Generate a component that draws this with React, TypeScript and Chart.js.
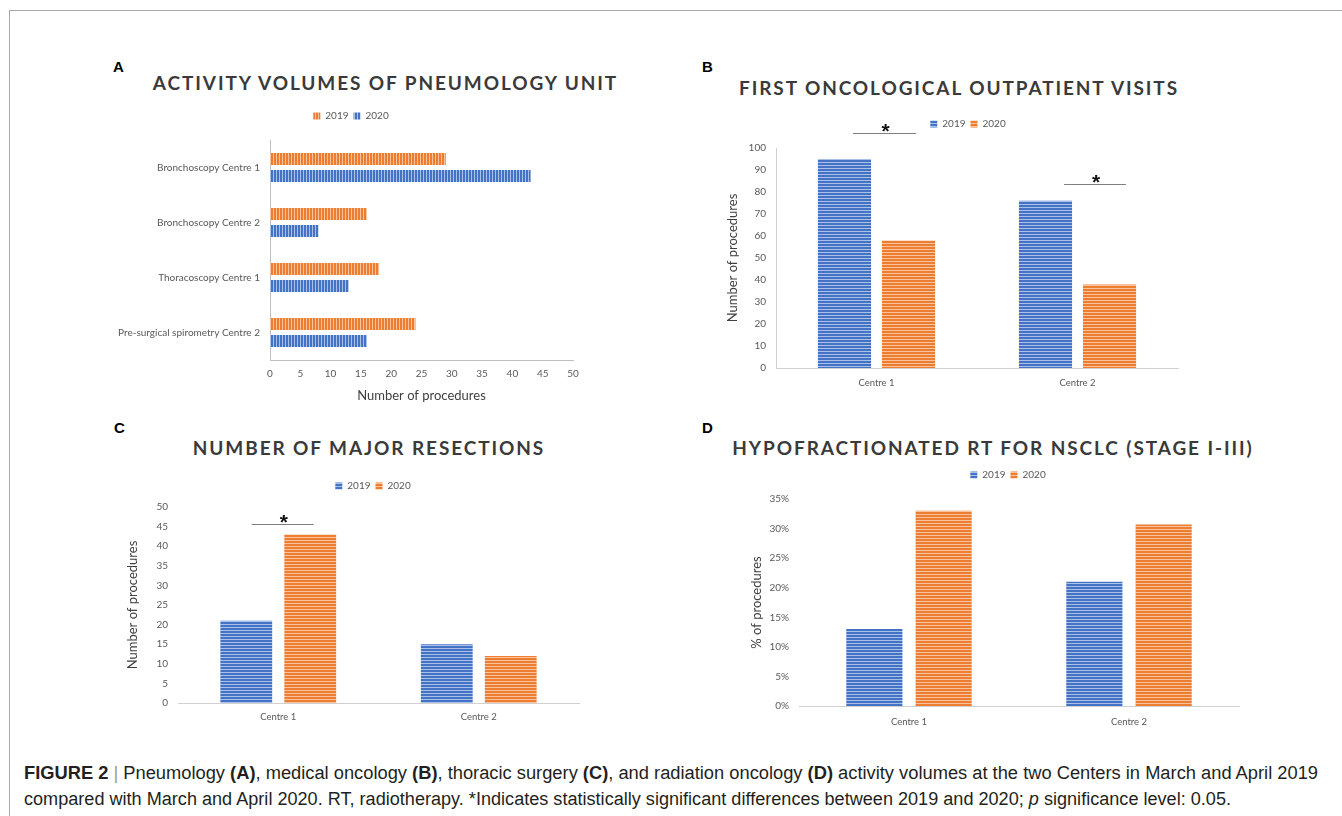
import React, { useEffect, useRef } from 'react';
import { Chart, registerables } from 'chart.js';

Chart.register(...registerables);

// ---------- data ----------
const pneumoCategories = [
  'Bronchoscopy Centre 1',
  'Bronchoscopy Centre 2',
  'Thoracoscopy Centre 1',
  'Pre-surgical spirometry Centre 2',
];
const pneumo2019 = [29, 16, 18, 24];
const pneumo2020 = [43, 8, 13, 16];

const centres = ['Centre 1', 'Centre 2'];
const visits2019 = [95, 76];
const visits2020 = [58, 38];
const resections2019 = [21, 15];
const resections2020 = [43, 12];
const hypoRt2019 = [13, 21];
const hypoRt2020 = [33, 30.7];

const seriesLabels = ['2019', '2020'];

// significance markers (category index, level in axis units, span in fractions of a category)
const visitsSignificance = [
  { category: 0, level: 107, from: -0.117, to: 0.197 },
  { category: 1, level: 83.6, from: -0.067, to: 0.241 },
];
const resectionsSignificance = [{ category: 0, level: 45.7, from: -0.132, to: 0.177 }];

// ---------- styles ----------
const FONT = 'Lato, "Open Sans", "Noto Sans", sans-serif';
const BLUE = '#4472C4';
const BLUE_LIGHT = '#A9C0E8';
const ORANGE = '#ED7D31';
const ORANGE_LIGHT = '#F8C29C';
const TICK = '#595959';
const AXIS_TITLE = '#404040';

Chart.defaults.font.family = FONT;

function stripes(ctx: CanvasRenderingContext2D, base: string, light: string, vertical: boolean) {
  const c = document.createElement('canvas');
  c.width = vertical ? 3 : 1;
  c.height = vertical ? 1 : 3;
  const g = c.getContext('2d')!;
  g.fillStyle = light;
  g.fillRect(0, 0, c.width, c.height);
  g.fillStyle = base;
  if (vertical) g.fillRect(0, 0, 2, 1);
  else g.fillRect(0, 0, 1, 2);
  return ctx.createPattern(c, 'repeat');
}

// adds a gap below the legend and centres the legend row on a given x
const legendPlacement = {
  id: 'legendPlacement',
  beforeInit(chart: any, _args: any, opts: any) {
    const legend = chart.legend;
    if (!legend) return;
    const orig = legend.fit;
    legend.fit = function () {
      orig.call(this);
      this.height += (opts && opts.gap) || 0;
    };
  },
  afterLayout(chart: any, _args: any, opts: any) {
    const legend = chart.legend;
    if (!legend || !opts || opts.center == null) return;
    const half = (legend.right - legend.left) / 2;
    legend.left = opts.center - half;
    legend.right = opts.center + half;
  },
};

const significance = {
  id: 'significance',
  afterDatasetsDraw(chart: any, _args: any, opts: any) {
    const marks = (opts && opts.marks) || [];
    if (!marks.length) return;
    const x = chart.scales.x;
    const y = chart.scales.y;
    const step = x.width / chart.data.labels.length;
    const ctx = chart.ctx;
    ctx.save();
    marks.forEach((m: any) => {
      const c = x.getPixelForValue(m.category);
      const x1 = c + m.from * step;
      const x2 = c + m.to * step;
      const py = Math.round(y.getPixelForValue(m.level)) + 0.5;
      ctx.strokeStyle = '#7f7f7f';
      ctx.lineWidth = 1;
      ctx.beginPath();
      ctx.moveTo(x1, py);
      ctx.lineTo(x2, py);
      ctx.stroke();
      ctx.fillStyle = '#111';
      ctx.font = 'bold 21px "Liberation Sans", Arial, sans-serif';
      ctx.textAlign = 'center';
      ctx.textBaseline = 'alphabetic';
      ctx.fillText('*', (x1 + x2) / 2 + 1, py + 4);
    });
    ctx.restore();
  },
};

const tickFont = { family: FONT, size: 10 };

function legendOptions() {
  return {
    display: true,
    position: 'top',
    labels: { boxWidth: 7, boxHeight: 7, padding: 5, color: TICK, font: tickFont },
  };
}

function pneumoConfig(ctx: CanvasRenderingContext2D): any {
  return {
    type: 'bar',
    data: {
      labels: pneumoCategories,
      datasets: [
        {
          label: seriesLabels[0],
          data: pneumo2019,
          backgroundColor: stripes(ctx, ORANGE, ORANGE_LIGHT, true),
          categoryPercentage: 0.62,
          barPercentage: 0.706,
        },
        {
          label: seriesLabels[1],
          data: pneumo2020,
          backgroundColor: stripes(ctx, BLUE, BLUE_LIGHT, true),
          categoryPercentage: 0.62,
          barPercentage: 0.706,
        },
      ],
    },
    options: {
      indexAxis: 'y',
      responsive: false,
      animation: false,
      layout: { padding: { top: 6, left: 0, right: 29, bottom: 0 } },
      plugins: {
        legend: legendOptions(),
        tooltip: { enabled: false },
        legendPlacement: { gap: 9, center: 251 },
      },
      scales: {
        y: {
          grid: { display: false, drawTicks: false },
          border: { display: true, color: '#bfbfbf' },
          ticks: { padding: 10, color: TICK, font: tickFont },
          afterFit: (s: any) => {
            s.width = 170;
          },
        },
        x: {
          min: 0,
          max: 50,
          ticks: { stepSize: 5, padding: 8, color: TICK, font: tickFont },
          grid: { display: false, drawTicks: false },
          border: { display: true, color: '#bfbfbf' },
          title: {
            display: true,
            text: 'Number of procedures',
            color: AXIS_TITLE,
            font: { family: FONT, size: 13 },
            padding: { top: 0, bottom: 6 },
          },
          afterFit: (s: any) => {
            s.height = 50;
          },
        },
      },
    },
    plugins: [legendPlacement],
  };
}

function verticalConfig(ctx: CanvasRenderingContext2D, p: any): any {
  return {
    type: 'bar',
    data: {
      labels: centres,
      datasets: [
        {
          label: seriesLabels[0],
          data: p.d2019,
          backgroundColor: stripes(ctx, BLUE, BLUE_LIGHT, false),
          categoryPercentage: p.cat,
          barPercentage: p.bar,
        },
        {
          label: seriesLabels[1],
          data: p.d2020,
          backgroundColor: stripes(ctx, ORANGE, ORANGE_LIGHT, false),
          categoryPercentage: p.cat,
          barPercentage: p.bar,
        },
      ],
    },
    options: {
      responsive: false,
      animation: false,
      layout: { padding: p.padding },
      plugins: {
        legend: legendOptions(),
        tooltip: { enabled: false },
        legendPlacement: { gap: p.gap, center: p.legendCenter },
        significance: { marks: p.marks || [] },
      },
      scales: {
        x: {
          grid: { display: false, drawTicks: false },
          border: { display: true, color: '#d0d0d0' },
          ticks: { padding: p.xPad, color: TICK, font: { family: FONT, size: 9.5 } },
          afterFit: (s: any) => {
            s.height = p.xHeight;
          },
        },
        y: {
          min: 0,
          max: p.max,
          ticks: {
            stepSize: p.step,
            padding: 10,
            color: TICK,
            font: tickFont,
            callback: p.fmt || ((v: any) => v),
          },
          grid: { display: false, drawTicks: false },
          border: { display: p.yLine, color: '#d0d0d0' },
          title: {
            display: true,
            text: p.yTitle,
            color: AXIS_TITLE,
            font: { family: FONT, size: 13 },
            padding: { top: p.titlePad, bottom: 0 },
          },
          afterFit: (s: any) => {
            s.width = p.yWidth;
          },
        },
      },
    },
    plugins: [legendPlacement, significance],
  };
}

function ChartCanvas(props: { left: number; top: number; width: number; height: number; build: (ctx: CanvasRenderingContext2D) => any }) {
  const ref = useRef<HTMLCanvasElement | null>(null);
  useEffect(() => {
    const canvas = ref.current!;
    const chart = new Chart(canvas, props.build(canvas.getContext('2d')!));
    return () => chart.destroy();
  }, []);
  return (
    <canvas
      ref={ref}
      width={props.width}
      height={props.height}
      style={{ position: 'absolute', left: props.left, top: props.top, width: props.width, height: props.height }}
    />
  );
}

function PanelTitle(props: { cx: number; cy: number; text: string }) {
  return (
    <div
      style={{
        position: 'absolute',
        left: props.cx - 400,
        top: props.cy - 12,
        width: 800,
        height: 24,
        lineHeight: '24px',
        textAlign: 'center',
        fontFamily: FONT,
        fontWeight: 700,
        fontSize: 19,
        letterSpacing: 1.9,
        color: '#3a3a3a',
        whiteSpace: 'nowrap',
      }}
    >
      {props.text}
    </div>
  );
}

function PanelLetter(props: { x: number; cy: number; text: string }) {
  return (
    <div
      style={{
        position: 'absolute',
        left: props.x,
        top: props.cy - 9,
        height: 18,
        lineHeight: '18px',
        fontFamily: '"Liberation Sans", Arial, sans-serif',
        fontWeight: 700,
        fontSize: 15,
        color: '#000',
      }}
    >
      {props.text}
    </div>
  );
}

function Caption() {
  const line1 = useRef<HTMLDivElement | null>(null);
  const line2 = useRef<HTMLDivElement | null>(null);
  useEffect(() => {
    const fit = (el: HTMLDivElement | null, target: number) => {
      if (!el) return;
      el.style.transform = 'none';
      const w = el.getBoundingClientRect().width;
      if (w > 0) el.style.transform = `scaleX(${target / w})`;
    };
    fit(line1.current, 1294);
    fit(line2.current, 1207);
  }, []);
  const base: React.CSSProperties = {
    position: 'absolute',
    left: 24,
    fontFamily: '"Liberation Sans", Arial, sans-serif',
    fontSize: 18,
    lineHeight: '22px',
    color: '#231f20',
    whiteSpace: 'nowrap',
    transformOrigin: 'left center',
    display: 'inline-block',
  };
  return (
    <>
      <div ref={line1} style={{ ...base, top: 762 }}>
        <b>FIGURE 2</b>
        <span style={{ color: '#9a9a9a' }}> | </span>Pneumology <b>(A)</b>, medical oncology <b>(B)</b>, thoracic surgery <b>(C)</b>, and
        radiation oncology <b>(D)</b> activity volumes at the two Centers in March and April 2019
      </div>
      <div ref={line2} style={{ ...base, top: 788 }}>
        compared with March and April 2020. RT, radiotherapy. *Indicates statistically significant differences between 2019 and 2020;{' '}
        <i>p</i> significance level: 0.05.
      </div>
    </>
  );
}

export default function App() {
  return (
    <div
      style={{
        position: 'fixed',
        left: 0,
        top: 0,
        width: 1342,
        height: 816,
        background: '#fff',
        overflow: 'hidden',
      }}
    >
      <div style={{ position: 'absolute', left: 9, top: 10, width: 1400, height: 1, background: '#a8a8a8' }} />
      <div style={{ position: 'absolute', left: 9, top: 10, width: 1, height: 900, background: '#a8a8a8' }} />

      <PanelLetter x={113} cy={67} text="A" />
      <PanelLetter x={702} cy={67} text="B" />
      <PanelLetter x={114} cy={428} text="C" />
      <PanelLetter x={702} cy={428} text="D" />

      <PanelTitle cx={385.5} cy={83} text="ACTIVITY VOLUMES OF PNEUMOLOGY UNIT" />
      <PanelTitle cx={959} cy={88} text="FIRST ONCOLOGICAL OUTPATIENT VISITS" />
      <PanelTitle cx={369} cy={448} text="NUMBER OF MAJOR RESECTIONS" />
      <PanelTitle cx={993} cy={448} text="HYPOFRACTIONATED RT FOR NSCLC (STAGE I-III)" />

      <ChartCanvas left={100} top={100} width={502} height={310} build={(ctx) => pneumoConfig(ctx)} />
      <ChartCanvas
        left={700}
        top={100}
        width={536}
        height={300}
        build={(ctx) =>
          verticalConfig(ctx, {
            d2019: visits2019,
            d2020: visits2020,
            cat: 0.637,
            bar: 0.83,
            padding: { top: 14, left: 0, right: 58, bottom: 0 },
            gap: 9,
            legendCenter: 268,
            xPad: 9,
            xHeight: 32,
            max: 100,
            step: 10,
            yLine: true,
            yTitle: 'Number of procedures',
            titlePad: 25,
            yWidth: 76,
            marks: visitsSignificance,
          })
        }
      />
      <ChartCanvas
        left={100}
        top={460}
        width={546}
        height={270}
        build={(ctx) =>
          verticalConfig(ctx, {
            d2019: resections2019,
            d2020: resections2020,
            cat: 0.638,
            bar: 0.81,
            padding: { top: 16, left: 0, right: 67, bottom: 0 },
            gap: 6,
            legendCenter: 273,
            xPad: 8,
            xHeight: 27,
            max: 50,
            step: 5,
            yLine: false,
            yTitle: 'Number of procedures',
            titlePad: 25,
            yWidth: 78,
            marks: resectionsSignificance,
          })
        }
      />
      <ChartCanvas
        left={700}
        top={440}
        width={616}
        height={285}
        build={(ctx) =>
          verticalConfig(ctx, {
            d2019: hypoRt2019,
            d2020: hypoRt2020,
            cat: 0.63,
            bar: 0.81,
            padding: { top: 25, left: 0, right: 77, bottom: 0 },
            gap: 9,
            legendCenter: 308,
            xPad: 10,
            xHeight: 19,
            max: 35,
            step: 5,
            yLine: false,
            yTitle: '% of procedures',
            titlePad: 49,
            yWidth: 99,
            fmt: (v: any) => v + '%',
          })
        }
      />

      <Caption />
    </div>
  );
}
